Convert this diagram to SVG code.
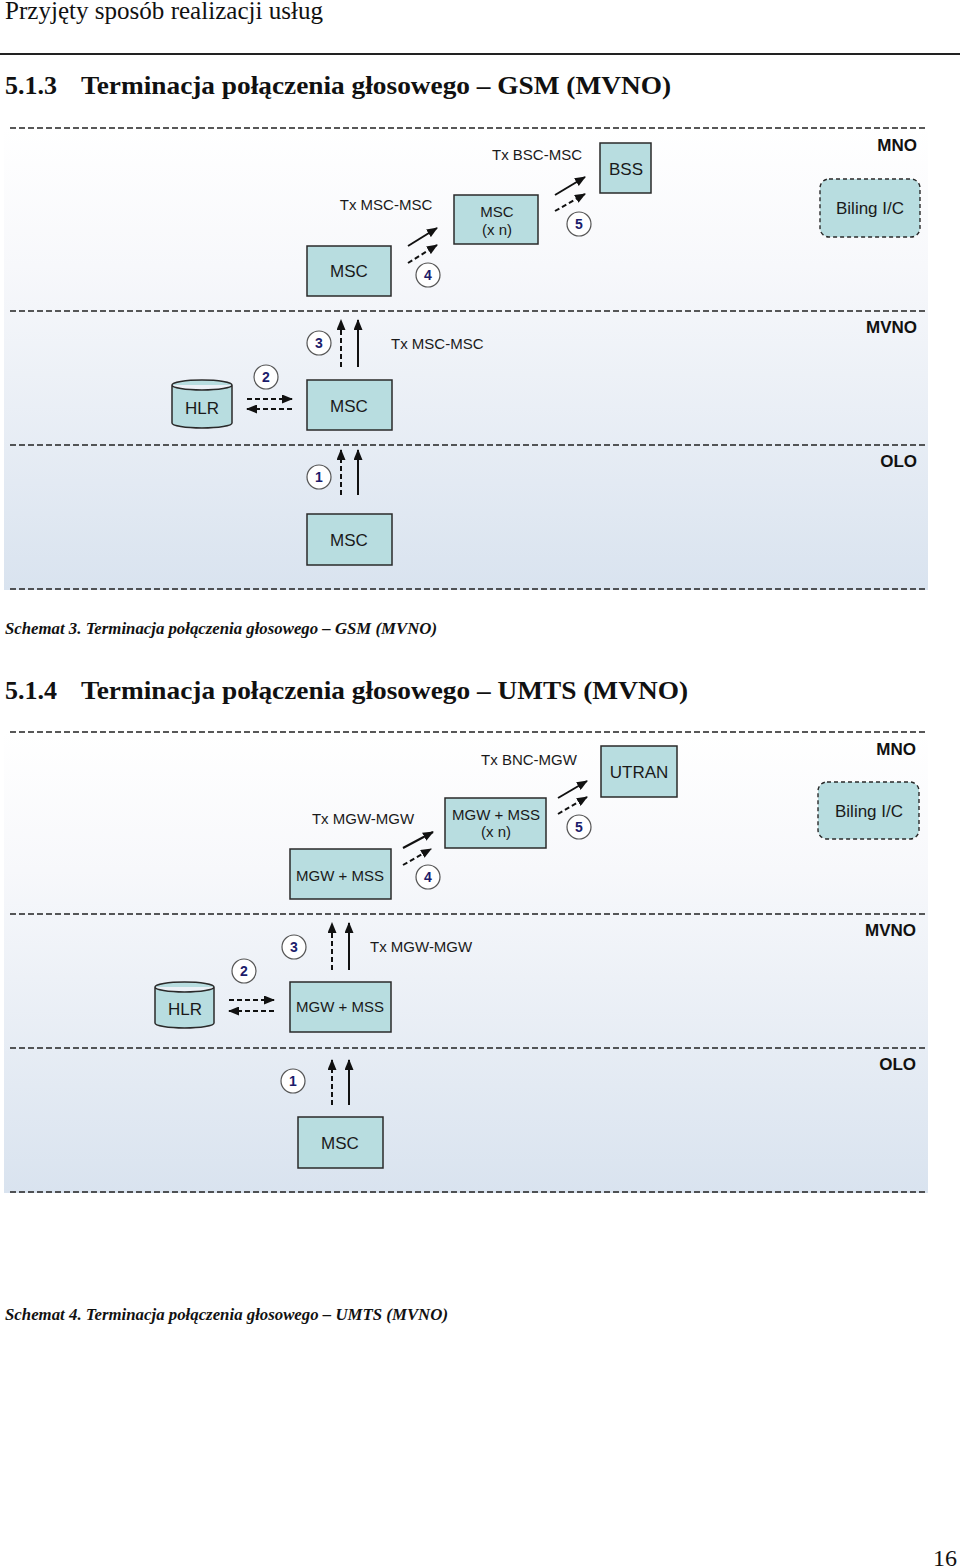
<svg xmlns="http://www.w3.org/2000/svg" width="960" height="1568" viewBox="0 0 960 1568">
<defs>
<linearGradient id="bg" x1="0" y1="0" x2="0" y2="1">
<stop offset="0" stop-color="#ffffff"/>
<stop offset="0.3" stop-color="#f7f8fb"/>
<stop offset="1" stop-color="#d9e3ef"/>
</linearGradient>
<marker id="ah" markerUnits="userSpaceOnUse" markerWidth="11" markerHeight="9" refX="10" refY="4.5" orient="auto">
<path d="M0,0 L11,4.5 L0,9 Z" fill="#111"/>
</marker>
<style>
.node{fill:#b8dde0;stroke:#2a2a2a;stroke-width:1.5}
.bil{fill:#b8dde0;stroke:#2a2a2a;stroke-width:1.4;stroke-dasharray:4 3}
.t{font-family:"Liberation Sans",Arial,sans-serif;font-size:17px;fill:#1a1a1a;text-anchor:middle}
.s{font-size:15px}
.st{text-anchor:start}
.zone{font-family:"Liberation Sans",Arial,sans-serif;font-size:17px;font-weight:bold;fill:#111;text-anchor:end}
.div{stroke:#222;stroke-width:1.3;stroke-dasharray:6 3;fill:none}
.num circle{fill:#fff;stroke:#555;stroke-width:1.2}
.num text{font-family:"Liberation Sans",Arial,sans-serif;font-size:14px;font-weight:bold;fill:#1c1c6b;text-anchor:middle}
.a{stroke:#111;stroke-width:2;fill:none;marker-end:url(#ah)}
.ad{stroke:#111;stroke-width:2;fill:none;stroke-dasharray:5 3;marker-end:url(#ah)}
.serif{font-family:"Liberation Serif","Times New Roman",serif;fill:#111}
</style>
</defs>
<rect width="960" height="1568" fill="#fff"/>
<text class="serif" x="5" y="19" font-size="25" textLength="318" lengthAdjust="spacingAndGlyphs">Przyjęty sposób realizacji usług</text>
<line x1="0" y1="54" x2="960" y2="54" stroke="#222" stroke-width="2"/>
<text class="serif" x="5" y="94" font-size="26" font-weight="bold">5.1.3</text>
<text class="serif" x="81" y="94" font-size="26" font-weight="bold" textLength="590" lengthAdjust="spacingAndGlyphs">Terminacja połączenia głosowego – GSM (MVNO)</text>

<!-- Diagram 1 -->
<g id="panel1">
<rect x="4" y="128" width="924" height="462" fill="url(#bg)"/>
<line class="div" x1="10" y1="128" x2="928" y2="128"/>
<line class="div" x1="10" y1="311" x2="928" y2="311"/>
<line class="div" x1="10" y1="445" x2="928" y2="445"/>
<line class="div" x1="10" y1="589" x2="928" y2="589"/>
<text class="zone" x="917" y="151">MNO</text>
<text class="zone" x="917" y="333">MVNO</text>
<text class="zone" x="917" y="467">OLO</text>
<text class="t s" x="537" y="160">Tx BSC-MSC</text>
<text class="t s" x="386" y="210">Tx MSC-MSC</text>
<text class="t s st" x="391" y="349">Tx MSC-MSC</text>
</g>
<g id="d1-bss"><rect class="node" x="600" y="143" width="51" height="50"/><text class="t" x="626" y="175">BSS</text></g>
<g id="d1-mscxn"><rect class="node" x="454" y="195" width="84" height="49"/><text class="t s" x="497" y="217">MSC</text><text class="t s" x="497" y="235">(x n)</text></g>
<g id="d1-msc-mno"><rect class="node" x="307" y="246" width="84" height="50"/><text class="t" x="349" y="277">MSC</text></g>
<g id="d1-biling"><rect class="bil" x="820" y="179" width="100" height="58" rx="9"/><text class="t" x="870" y="214">Biling I/C</text></g>
<g id="d1-hlr"><path class="node" d="M172,385 A30,5 0 0 1 232,385 L232,423 A30,5 0 0 1 172,423 Z M172,385 A30,5 0 0 0 232,385"/><text class="t" x="202" y="414">HLR</text></g>
<g id="d1-msc-mvno"><rect class="node" x="307" y="380" width="85" height="50"/><text class="t" x="349" y="412">MSC</text></g>
<g id="d1-msc-olo"><rect class="node" x="307" y="514" width="85" height="51"/><text class="t" x="349" y="546">MSC</text></g>
<g id="d1-connectors">
<line class="a" x1="408" y1="246" x2="437" y2="228"/>
<line class="ad" x1="408" y1="263" x2="437" y2="245"/>
<line class="a" x1="555" y1="195" x2="585" y2="177"/>
<line class="ad" x1="555" y1="211" x2="585" y2="194"/>
<line class="ad" x1="341" y1="367" x2="341" y2="320"/>
<line class="a" x1="358" y1="367" x2="358" y2="320"/>
<line class="ad" x1="247" y1="399" x2="292" y2="399"/>
<line class="ad" x1="292" y1="409" x2="247" y2="409"/>
<line class="ad" x1="341" y1="495" x2="341" y2="450"/>
<line class="a" x1="358" y1="495" x2="358" y2="450"/>
</g>
<g id="d1-nums" class="num">
<g><circle cx="428" cy="275" r="12"/><text x="428" y="280">4</text></g>
<g><circle cx="579" cy="224" r="12"/><text x="579" y="229">5</text></g>
<g><circle cx="319" cy="343" r="12"/><text x="319" y="348">3</text></g>
<g><circle cx="266" cy="377" r="12"/><text x="266" y="382">2</text></g>
<g><circle cx="319" cy="477" r="12"/><text x="319" y="482">1</text></g>
</g>

<text class="serif" x="5" y="634" font-size="16" font-weight="bold" font-style="italic" textLength="432" lengthAdjust="spacingAndGlyphs">Schemat 3. Terminacja połączenia głosowego – GSM (MVNO)</text>
<text class="serif" x="5" y="699" font-size="26" font-weight="bold">5.1.4</text>
<text class="serif" x="81" y="699" font-size="26" font-weight="bold" textLength="607" lengthAdjust="spacingAndGlyphs">Terminacja połączenia głosowego – UMTS (MVNO)</text>

<!-- Diagram 2 -->
<g id="panel2">
<rect x="4" y="732" width="924" height="461" fill="url(#bg)"/>
<line class="div" x1="10" y1="732" x2="928" y2="732"/>
<line class="div" x1="10" y1="914" x2="928" y2="914"/>
<line class="div" x1="10" y1="1048" x2="928" y2="1048"/>
<line class="div" x1="10" y1="1192" x2="928" y2="1192"/>
<text class="zone" x="916" y="755">MNO</text>
<text class="zone" x="916" y="936">MVNO</text>
<text class="zone" x="916" y="1070">OLO</text>
<text class="t s" x="529" y="765">Tx BNC-MGW</text>
<text class="t s" x="363" y="824">Tx MGW-MGW</text>
<text class="t s st" x="370" y="952">Tx MGW-MGW</text>
</g>
<g id="d2-utran"><rect class="node" x="601" y="746" width="76" height="51"/><text class="t" x="639" y="778">UTRAN</text></g>
<g id="d2-mgwxn"><rect class="node" x="445" y="798" width="101" height="50"/><text class="t s" x="496" y="820">MGW + MSS</text><text class="t s" x="496" y="837">(x n)</text></g>
<g id="d2-mgw-mno"><rect class="node" x="290" y="849" width="101" height="50"/><text class="t s" x="340" y="881">MGW + MSS</text></g>
<g id="d2-biling"><rect class="bil" x="818" y="782" width="101" height="57" rx="9"/><text class="t" x="869" y="817">Biling I/C</text></g>
<g id="d2-hlr"><path class="node" d="M155,987 A29.5,5 0 0 1 214,987 L214,1023 A29.5,5 0 0 1 155,1023 Z M155,987 A29.5,5 0 0 0 214,987"/><text class="t" x="185" y="1015">HLR</text></g>
<g id="d2-mgw-mvno"><rect class="node" x="290" y="982" width="101" height="50"/><text class="t s" x="340" y="1012">MGW + MSS</text></g>
<g id="d2-msc-olo"><rect class="node" x="298" y="1117" width="85" height="51"/><text class="t" x="340" y="1149">MSC</text></g>
<g id="d2-connectors">
<line class="a" x1="403" y1="848" x2="433" y2="832"/>
<line class="ad" x1="403" y1="865" x2="431" y2="849"/>
<line class="a" x1="558" y1="798" x2="587" y2="781"/>
<line class="ad" x1="558" y1="814" x2="587" y2="797"/>
<line class="ad" x1="332" y1="970" x2="332" y2="923"/>
<line class="a" x1="349" y1="970" x2="349" y2="923"/>
<line class="ad" x1="229" y1="1000" x2="274" y2="1000"/>
<line class="ad" x1="274" y1="1011" x2="229" y2="1011"/>
<line class="ad" x1="332" y1="1105" x2="332" y2="1060"/>
<line class="a" x1="349" y1="1105" x2="349" y2="1060"/>
</g>
<g id="d2-nums" class="num">
<g><circle cx="428" cy="877" r="12"/><text x="428" y="882">4</text></g>
<g><circle cx="579" cy="827" r="12"/><text x="579" y="832">5</text></g>
<g><circle cx="294" cy="947" r="12"/><text x="294" y="952">3</text></g>
<g><circle cx="244" cy="971" r="12"/><text x="244" y="976">2</text></g>
<g><circle cx="293" cy="1081" r="12"/><text x="293" y="1086">1</text></g>
</g>

<text class="serif" x="5" y="1320" font-size="16" font-weight="bold" font-style="italic" textLength="443" lengthAdjust="spacingAndGlyphs">Schemat 4. Terminacja połączenia głosowego – UMTS (MVNO)</text>
<text class="serif" x="933" y="1566" font-size="24">16</text>
</svg>
